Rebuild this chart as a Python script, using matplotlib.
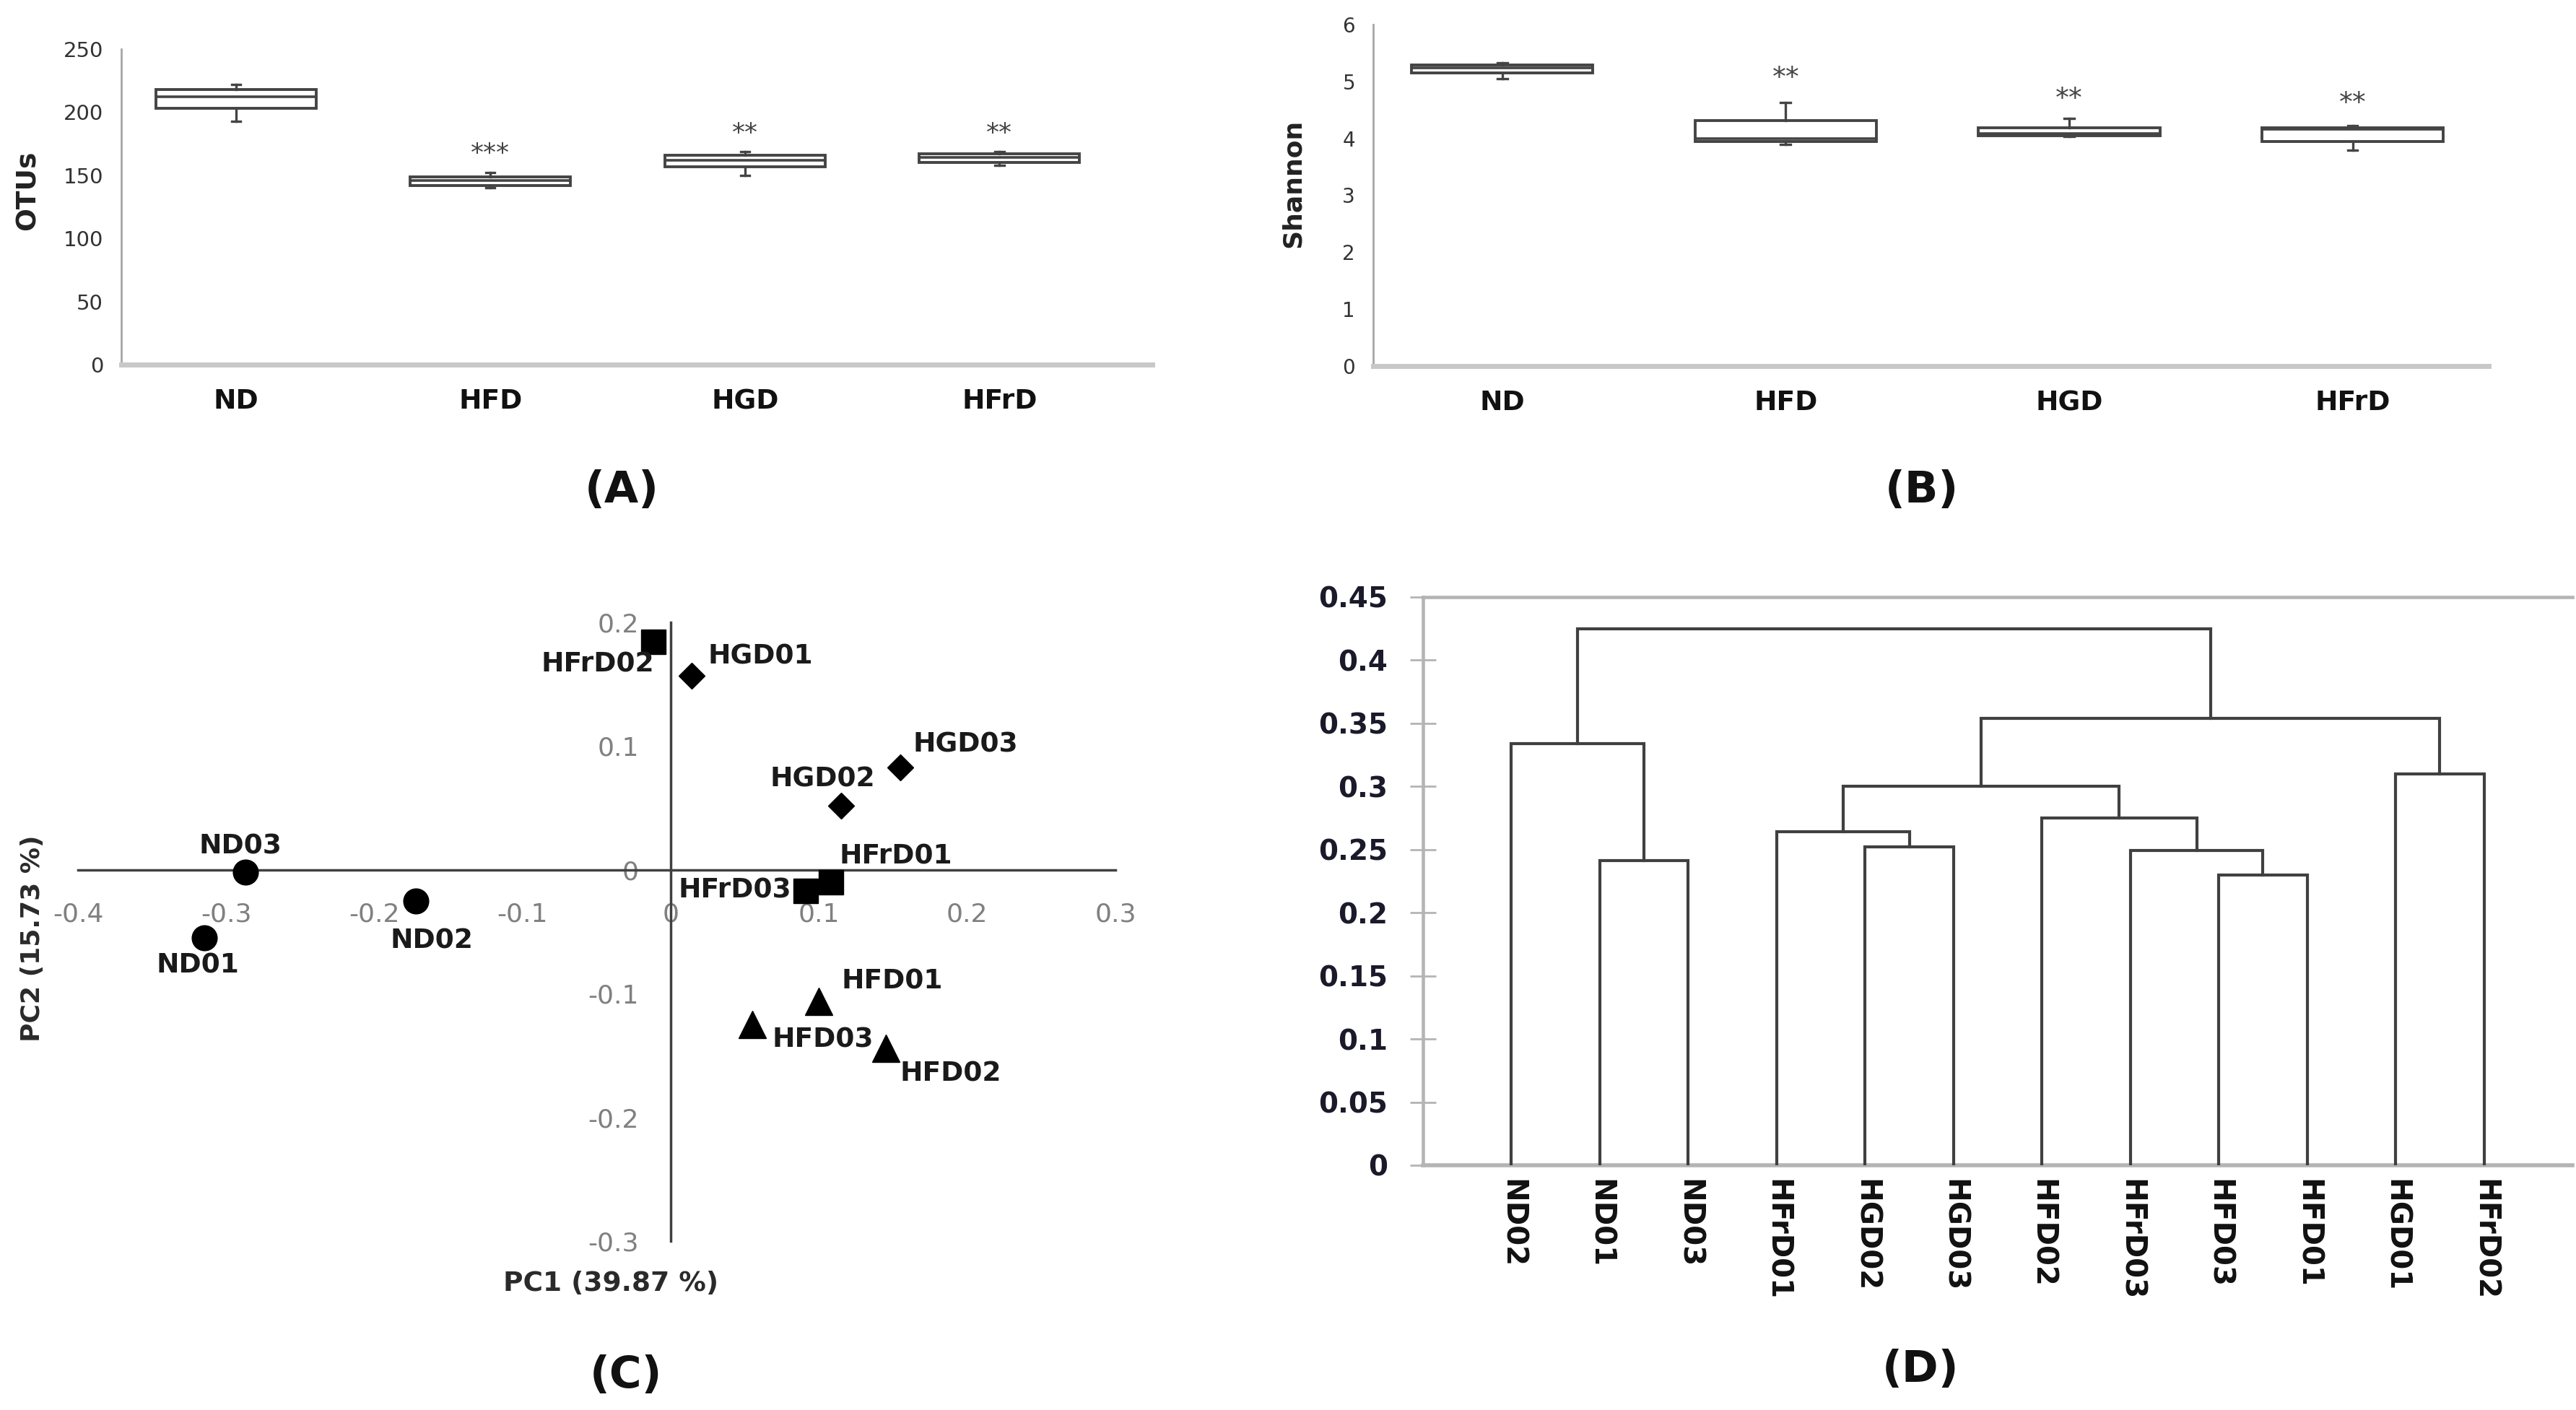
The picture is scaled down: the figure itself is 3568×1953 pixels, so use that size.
import numpy as np
import matplotlib
matplotlib.use("Agg")
import matplotlib.pyplot as plt
from matplotlib import font_manager as fm
from matplotlib.ticker import FuncFormatter

plt.rcParams['axes.unicode_minus'] = False
plt.rcParams['font.family'] = ['DejaVu Sans']

_avail = {f.name for f in fm.fontManager.ttflist}
NARROW = 'Liberation Sans Narrow' if 'Liberation Sans Narrow' in _avail else 'DejaVu Sans'
CAT_SIZE = 33 if NARROW == 'Liberation Sans Narrow' else 27

# ---------------- data ----------------
groups = ['ND', 'HFD', 'HGD', 'HFrD']

# (A) OTUs box summary
otu_whislo = [193, 140, 150, 158]
otu_q1     = [203, 142, 157, 160]
otu_med    = [212, 146, 162, 164]
otu_q3     = [218, 149, 166, 167]
otu_whishi = [222, 152, 169, 169]
otu_sig    = ['', '***', '**', '**']
otu_sig_y  = [0, 167, 183, 183]
otu_ticks  = [0, 50, 100, 150, 200, 250]

# (B) Shannon box summary
sh_whislo = [5.05, 3.89, 4.03, 3.79]
sh_q1     = [5.15, 3.94, 4.05, 3.94]
sh_med    = [5.24, 3.99, 4.08, 4.16]
sh_q3     = [5.29, 4.31, 4.19, 4.19]
sh_whishi = [5.33, 4.63, 4.35, 4.23]
sh_sig    = ['', '**', '**', '**']
sh_sig_y  = [0, 5.05, 4.68, 4.60]
sh_ticks  = [0, 1, 2, 3, 4, 5, 6]

# (C) PCA
pca_names = ['ND01', 'ND02', 'ND03', 'HFD01', 'HFD02', 'HFD03',
             'HGD01', 'HGD02', 'HGD03', 'HFrD01', 'HFrD02', 'HFrD03']
pca_group = ['ND', 'ND', 'ND', 'HFD', 'HFD', 'HFD',
             'HGD', 'HGD', 'HGD', 'HFrD', 'HFrD', 'HFrD']
pc1 = [-0.315, -0.172, -0.287, 0.100, 0.145, 0.055,
       0.014, 0.115, 0.155, 0.108, -0.012, 0.091]
pc2 = [-0.055, -0.025, -0.002, -0.106, -0.144, -0.125,
       0.157, 0.052, 0.083, -0.010, 0.184, -0.017]
pca_xticks = [-0.4, -0.3, -0.2, -0.1, 0, 0.1, 0.2, 0.3]
pca_yticks = [-0.3, -0.2, -0.1, 0, 0.1, 0.2]

# (D) dendrogram: leaves in display order, linkage (left, right, height)
leaves = ['ND02', 'ND01', 'ND03', 'HFrD01', 'HGD02', 'HGD03',
          'HFD02', 'HFrD03', 'HFD03', 'HFD01', 'HGD01', 'HFrD02']
link_left   = [8, 1, 7, 4, 3, 6, 16, 10, 0, 18, 20]
link_right  = [9, 2, 12, 5, 15, 14, 17, 11, 13, 19, 21]
link_height = [0.230, 0.241, 0.249, 0.252, 0.264, 0.275,
               0.300, 0.310, 0.334, 0.354, 0.425]
dend_ticks = [0, 0.05, 0.1, 0.15, 0.2, 0.25, 0.3, 0.35, 0.4, 0.45]

# ---------------- figure ----------------
fig = plt.figure(figsize=(35.68, 19.53), dpi=100)
fig.patch.set_facecolor('white')

BOXC = '#444444'


def box_panel(ax, wl, q1, med, q3, wh, sig, sig_y, ticks, ylim, xlim, width,
              tick_size, star_size):
    pos = np.arange(1, len(groups) + 1)
    stats = [dict(whislo=a, q1=b, med=c, q3=d, whishi=e, fliers=[])
             for a, b, c, d, e in zip(wl, q1, med, q3, wh)]
    ax.bxp(stats, positions=pos, widths=width, showfliers=False,
           patch_artist=True, capwidths=0.035,
           boxprops=dict(facecolor='white', edgecolor=BOXC, linewidth=2.8),
           medianprops=dict(color=BOXC, linewidth=2.6),
           whiskerprops=dict(color=BOXC, linewidth=2.4),
           capprops=dict(color=BOXC, linewidth=2.4))
    for p, s, y in zip(pos, sig, sig_y):
        if s:
            ax.text(p, y, s, ha='center', va='center', fontsize=star_size,
                    color='#444444')
    ax.set_xlim(*xlim)
    ax.set_ylim(*ylim)
    ax.set_yticks(ticks)
    ax.set_yticklabels([str(t) for t in ticks])
    ax.set_xticks(pos)
    ax.set_xticklabels(groups, fontfamily=NARROW, fontweight='bold',
                       fontsize=CAT_SIZE, color='#111111')
    for s in ('top', 'right'):
        ax.spines[s].set_visible(False)
    ax.spines['left'].set_color('#a6a6a6')
    ax.spines['left'].set_linewidth(2)
    ax.spines['bottom'].set_color('#c8c8c8')
    ax.spines['bottom'].set_linewidth(5)
    ax.tick_params(axis='y', length=0, pad=18, labelsize=tick_size,
                   labelcolor='#333333')
    ax.tick_params(axis='x', length=0, pad=24)
    ax.patch.set_alpha(0)


# (A)
axA = fig.add_axes([0.0471, 0.7414, 0.4002, 0.2238])
box_panel(axA, otu_whislo, otu_q1, otu_med, otu_q3, otu_whishi,
          otu_sig, otu_sig_y, otu_ticks, (0, 250), (0.55, 4.6), 0.63, 21, 26)
fig.text(39 / 3568, 1 - 264 / 1953, 'OTUs', rotation=90, ha='center',
         va='center', fontsize=27, fontweight='bold', color='#222222')

# (B)
axB = fig.add_axes([0.5331, 0.7404, 0.4330, 0.2422])
box_panel(axB, sh_whislo, sh_q1, sh_med, sh_q3, sh_whishi,
          sh_sig, sh_sig_y, sh_ticks, (0, 6), (0.545, 4.48), 0.64, 20, 27)
fig.text(1791 / 3568, 1 - 254 / 1953, 'Shannon', rotation=90, ha='center',
         va='center', fontsize=26, fontweight='bold', color='#222222')

# (C) PCA
axC = fig.add_axes([0.0303, 0.1198, 0.4027, 0.4388])
axC.set_xlim(-0.4, 0.3)
axC.set_ylim(-0.3, 0.2)
for s in ('top', 'right'):
    axC.spines[s].set_visible(False)
for s in ('left', 'bottom'):
    axC.spines[s].set_position(('data', 0))
    axC.spines[s].set_color('#404040')
    axC.spines[s].set_linewidth(2.5)
fmt = FuncFormatter(lambda v, p: '%g' % round(v, 2))
axC.set_xticks(pca_xticks)
axC.set_yticks(pca_yticks)
axC.xaxis.set_major_formatter(fmt)
axC.yaxis.set_major_formatter(fmt)
axC.tick_params(length=0, labelsize=26, labelcolor='#808080', pad=32)
axC.patch.set_alpha(0)

marker_of = {'ND': ('o', 25), 'HFD': ('^', 27), 'HGD': ('D', 18), 'HFrD': ('s', 24)}
label_off = {
    'ND03': ('center', -7, 36), 'ND01': ('center', -9, -38),
    'ND02': ('center', 22, -56), 'HFrD02': ('right', 2, -31),
    'HGD01': ('left', 23, 26), 'HGD03': ('left', 17, 31),
    'HGD02': ('center', -26, 36), 'HFrD01': ('left', 12, 35),
    'HFrD03': ('right', -20, 0), 'HFD01': ('left', 31, 27),
    'HFD03': ('left', 27, -21), 'HFD02': ('left', 20, -36),
}
for g in groups:
    idx = [i for i, gg in enumerate(pca_group) if gg == g]
    m, ms = marker_of[g]
    axC.plot([pc1[i] for i in idx], [pc2[i] for i in idx], linestyle='none',
             marker=m, markersize=ms, color='black', zorder=4, clip_on=False)
for n, x, y in zip(pca_names, pc1, pc2):
    ha, dx, dy = label_off[n]
    axC.annotate(n, (x, y), xytext=(dx, dy), textcoords='offset pixels',
                 ha=ha, va='center', fontsize=27, fontweight='bold',
                 color='#1a1a1a', zorder=5)
fig.text(846 / 3568, 1 - 1778 / 1953, 'PC1 (39.87 %)', ha='center',
         va='center', fontsize=27, fontweight='bold', color='#2a2a2a')
fig.text(45 / 3568, 1 - 1300 / 1953, 'PC2 (15.73 %)', rotation=90,
         ha='center', va='center', fontsize=26, fontweight='bold',
         color='#2a2a2a')

# (D) dendrogram
axD = fig.add_axes([0.5524, 0.1736, 0.4462, 0.4030])
n_leaf = len(leaves)
node_x = {i: i + 1.0 for i in range(n_leaf)}
node_h = {i: 0.0 for i in range(n_leaf)}
for k, (l, r, h) in enumerate(zip(link_left, link_right, link_height)):
    nid = n_leaf + k
    xl, xr = node_x[l], node_x[r]
    axD.plot([xl, xl, xr, xr], [node_h[l], h, h, node_h[r]],
             color='#404040', linewidth=3, solid_joinstyle='miter', zorder=3)
    node_x[nid] = (xl + xr) / 2
    node_h[nid] = h
axD.set_xlim(0, n_leaf + 1)
axD.set_ylim(0, 0.45)
axD.set_yticks(dend_ticks)
axD.set_yticklabels(['%g' % t for t in dend_ticks], fontweight='bold',
                    fontsize=28, color='#1a1a2a')
axD.set_xticks(np.arange(1, n_leaf + 1))
axD.set_xticklabels(leaves, rotation=-90, fontweight='bold', fontsize=29,
                    color='#111111')
axD.spines['right'].set_visible(False)
for s in ('top', 'left', 'bottom'):
    axD.spines[s].set_color('#b4b4b4')
axD.spines['top'].set_linewidth(3.3)
axD.spines['left'].set_linewidth(3.3)
axD.spines['bottom'].set_linewidth(4)
axD.tick_params(axis='y', direction='inout', length=26, width=2,
                color='#b4b4b4', pad=22)
axD.tick_params(axis='x', length=0, pad=14)
axD.patch.set_alpha(0)

# panel captions
for lab, x, y in [('(A)', 861, 680), ('(B)', 2662, 680),
                  ('(C)', 867, 1905), ('(D)', 2660, 1897)]:
    fig.text(x / 3568, 1 - y / 1953, lab, ha='center', va='center',
             fontsize=44, fontweight='bold', color='#111111')

fig.savefig('out.png', dpi=100, facecolor='white')
